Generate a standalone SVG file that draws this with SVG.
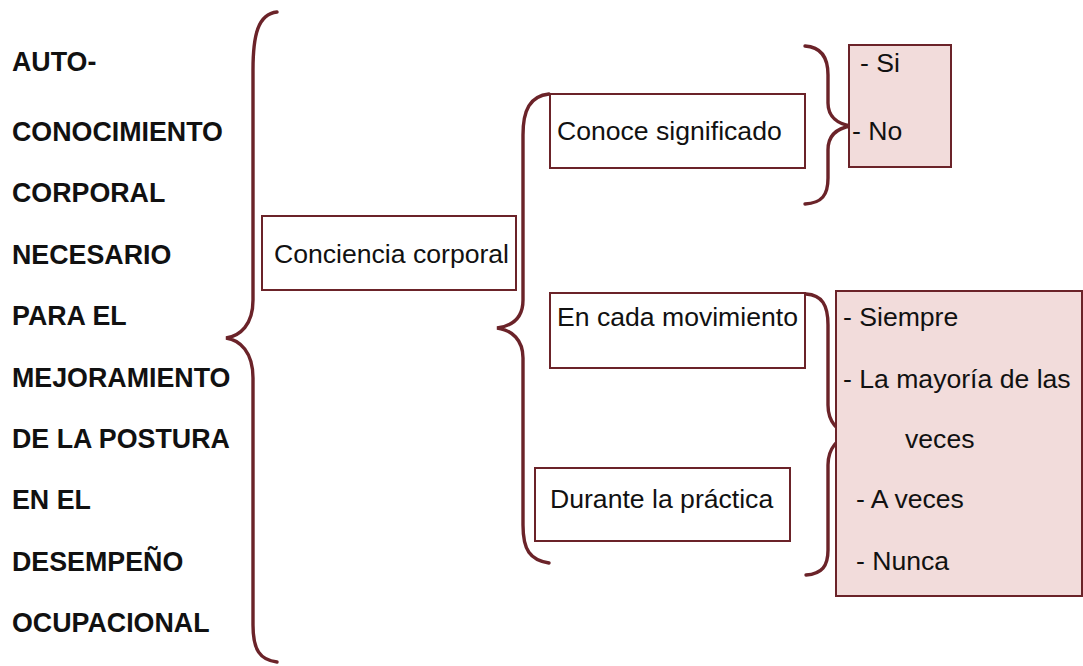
<svg xmlns="http://www.w3.org/2000/svg" width="1083" height="666" viewBox="0 0 1083 666">
<style>
text{font-family:"Liberation Sans",Arial,sans-serif;font-size:26.6px;fill:#111}
.t{font-weight:bold;font-size:26.8px}
.box{fill:#fff;stroke:#6b2329;stroke-width:2}
.pink{fill:#f2dcdb;stroke:#6b2329;stroke-width:2}
.br{fill:none;stroke:#6b2329;stroke-width:3.4;stroke-linecap:round}
</style>
<rect width="1083" height="666" fill="#fff"/>
<g id="title">
<text class="t" x="12" y="71">AUTO-</text>
<text class="t" x="12" y="141">CONOCIMIENTO</text>
<text class="t" x="12" y="202">CORPORAL</text>
<text class="t" x="12" y="264">NECESARIO</text>
<text class="t" x="12" y="325">PARA EL</text>
<text class="t" x="12" y="387">MEJORAMIENTO</text>
<text class="t" x="12" y="448">DE LA POSTURA</text>
<text class="t" x="12" y="509">EN EL</text>
<text class="t" x="12" y="571">DESEMPEÑO</text>
<text class="t" x="12" y="632">OCUPACIONAL</text>
</g>
<g id="connectors">
<path class="br" d="M277,12 C258,14 253,35 253,70 L253,300 C253,325 240,336 226,338 C240,340 253,352 253,378 L253,625 C253,650 260,660 277,662"/>
<path class="br" d="M549,94 C530,96 523,110 523,135 L523,300 C523,318 512,326 497,328 C512,330 523,340 523,358 L523,525 C523,550 530,560 549,563"/>
<path class="br" d="M805,46 C822,47 828,58 828,75 L828,103 C828,117 838,124 851,126 C838,128 828,135 828,150 L828,178 C828,195 822,203 805,204"/>
<path class="br" d="M806,294 C822,295 828,305 828,325 L828,405 C828,422 838,432 850,435 C838,438 828,448 828,465 L828,550 C828,566 822,574 806,575"/>
</g>
<g id="conciencia">
<rect class="box" x="262" y="216" width="254" height="74"/>
<text x="274" y="263">Conciencia corporal</text>
</g>
<g id="conoce">
<rect class="box" x="550" y="94" width="255" height="74"/>
<text x="557" y="140">Conoce significado</text>
</g>
<g id="movimiento">
<rect class="box" x="550" y="293" width="255" height="75"/>
<text x="557" y="326">En cada movimiento</text>
</g>
<g id="practica">
<rect class="box" x="535" y="468" width="255" height="73"/>
<text x="550" y="508">Durante la práctica</text>
</g>
<g id="sino">
<rect class="pink" x="849" y="45" width="102" height="122"/>
<text x="860" y="72">- Si</text>
<text x="852" y="140">- No</text>
</g>
<g id="frecuencia">
<rect class="pink" x="836" y="291" width="246" height="305"/>
<text x="843" y="326">- Siempre</text>
<text x="843" y="388">- La mayoría de las</text>
<text x="905" y="448">veces</text>
<text x="856" y="508">- A veces</text>
<text x="856" y="570">- Nunca</text>
</g>
</svg>
